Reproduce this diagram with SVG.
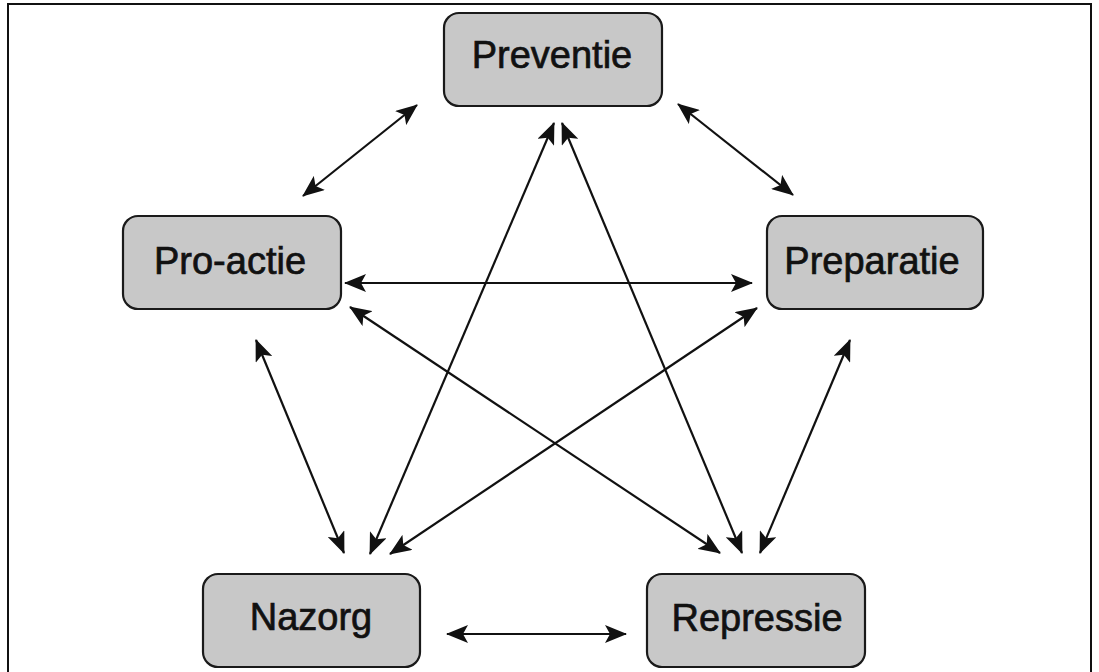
<svg xmlns="http://www.w3.org/2000/svg" width="1099" height="672" viewBox="0 0 1099 672">
<style>
.box{fill:#c8c8c8;stroke:#1a1a1a;stroke-width:2.2}
.lbl{font-family:"Liberation Sans",Arial,sans-serif;font-size:38px;fill:#111;stroke:#111;stroke-width:0.7;text-anchor:middle}
.c{stroke:#111;stroke-width:2.2;fill:none;marker-start:url(#ah);marker-end:url(#ah)}
</style>
<defs>
<marker id="ah" markerUnits="userSpaceOnUse" viewBox="0 0 22 18" refX="21" refY="9" markerWidth="22" markerHeight="18" orient="auto-start-reverse">
<path d="M0,0 L22,9 L0,18 L5,9 Z" fill="#111"/>
</marker>
</defs>
<rect x="8" y="4" width="1083" height="680" fill="#fff" stroke="#111" stroke-width="2"/>
<g id="connectors">
<line class="c" x1="417" y1="105" x2="303" y2="196"/>
<line class="c" x1="678" y1="104" x2="793" y2="195"/>
<line class="c" x1="345" y1="283" x2="752" y2="283"/>
<line class="c" x1="350" y1="307" x2="720" y2="553"/>
<line class="c" x1="757" y1="308" x2="390" y2="554"/>
<line class="c" x1="554" y1="123" x2="370" y2="554"/>
<line class="c" x1="562" y1="123" x2="742" y2="553"/>
<line class="c" x1="256" y1="340" x2="344" y2="553"/>
<line class="c" x1="850" y1="340" x2="760" y2="553"/>
<line class="c" x1="447" y1="634" x2="626" y2="634"/>
</g>
<g id="preventie"><rect class="box" x="444" y="13" width="218" height="93" rx="15"/><text class="lbl" x="552" y="68">Preventie</text></g>
<g id="pro-actie"><rect class="box" x="123" y="216" width="218" height="93" rx="15"/><text class="lbl" x="230" y="274">Pro-actie</text></g>
<g id="preparatie"><rect class="box" x="767" y="216" width="216" height="93" rx="15"/><text class="lbl" x="872" y="274">Preparatie</text></g>
<g id="nazorg"><rect class="box" x="203" y="574" width="217" height="93" rx="15"/><text class="lbl" x="311" y="630">Nazorg</text></g>
<g id="repressie"><rect class="box" x="647" y="574" width="218" height="93" rx="15"/><text class="lbl" x="757" y="631">Repressie</text></g>
</svg>
